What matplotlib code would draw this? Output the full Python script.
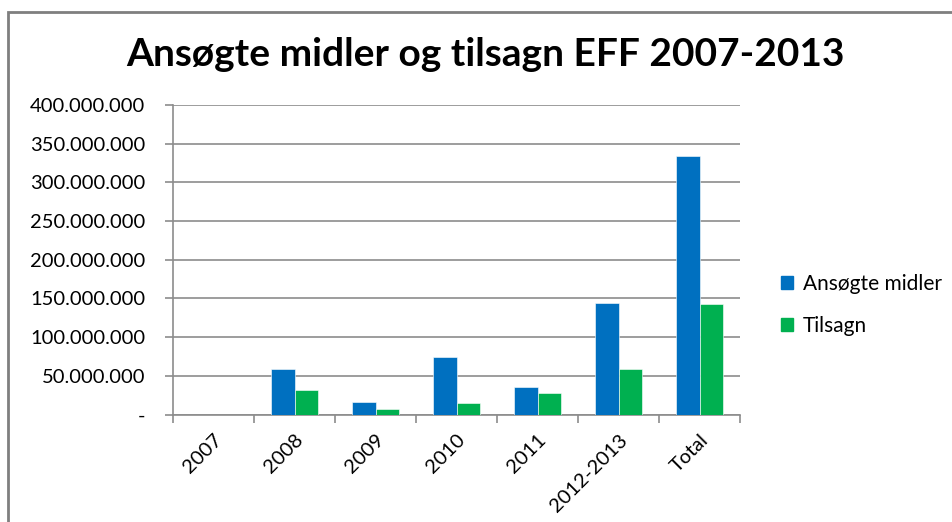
import numpy as np
import matplotlib
matplotlib.use("Agg")
import matplotlib.pyplot as plt
from matplotlib.patches import Rectangle, Patch
from matplotlib.ticker import FuncFormatter, FixedLocator

plt.rcParams['font.family'] = ['Lato', 'DejaVu Sans']

categories = ["2007", "2008", "2009", "2010", "2011", "2012-2013", "Total"]
ansogte = [0, 58500000, 16300000, 74900000, 35300000, 144700000, 333700000]
tilsagn = [0, 31400000, 6800000, 14600000, 28400000, 58500000, 143400000]
series_names = ["Ansøgte midler", "Tilsagn"]

BLUE = "#0070C0"
GREEN = "#00B050"
GRID = "#8c8c8c"


def fmt(v, pos):
    if v == 0:
        return "-"
    return f"{int(v):,}".replace(",", ".")


fig = plt.figure(figsize=(9.52, 5.22), dpi=100)
ax = fig.add_axes([173 / 952, 1 - 414.5 / 522, 567 / 952, 309.5 / 522])

x = np.arange(len(categories))
w = 0.296
ax.bar(x - w / 2, ansogte, width=w, color=BLUE, edgecolor="white", linewidth=0.4, zorder=3)
ax.bar(x + w / 2, tilsagn, width=w, color=GREEN, edgecolor="white", linewidth=0.4, zorder=3)

ax.set_xlim(-0.5, len(categories) - 0.5)
ax.set_ylim(0, 400000000)
ax.yaxis.set_major_locator(FixedLocator(np.arange(0, 400000001, 50000000)))
ax.yaxis.set_major_formatter(FuncFormatter(fmt))
ax.grid(axis="y", color=GRID, linewidth=1.2, zorder=0)

ax.set_xticks(x)
ax.set_xticklabels(categories, rotation=45, ha="right", rotation_mode="anchor", fontsize=14.5)
ax.xaxis.set_minor_locator(FixedLocator(np.arange(-0.5, len(categories), 1)))
ax.tick_params(axis="x", which="major", length=0, pad=12)
ax.tick_params(axis="x", which="minor", length=6, color=GRID, width=1.2)
ax.tick_params(axis="y", length=6, color=GRID, width=1.2, labelsize=14.5, pad=14)

for s in ["top", "right"]:
    ax.spines[s].set_visible(False)
for s in ["left", "bottom"]:
    ax.spines[s].set_color(GRID)
    ax.spines[s].set_linewidth(1.2)

fig.text(485 / 952, 1 - 55 / 522, "Ansøgte midler og tilsagn EFF 2007-2013",
         ha="center", va="center", fontsize=28, fontweight="bold")

handles = [Patch(color=BLUE), Patch(color=GREEN)]
fig.legend(handles, series_names, loc="center left", bbox_to_anchor=(762 / 952, 1 - 305 / 522),
           frameon=False, fontsize=15, handlelength=0.6, handleheight=0.6,
           handletextpad=0.45, labelspacing=1.05)

fig.patches.append(Rectangle((8 / 952, -0.1), 1.2, 1.1 - 12 / 522, transform=fig.transFigure,
                             fill=False, edgecolor="#7f7f7f", linewidth=2))

fig.savefig("out.png", dpi=100)
